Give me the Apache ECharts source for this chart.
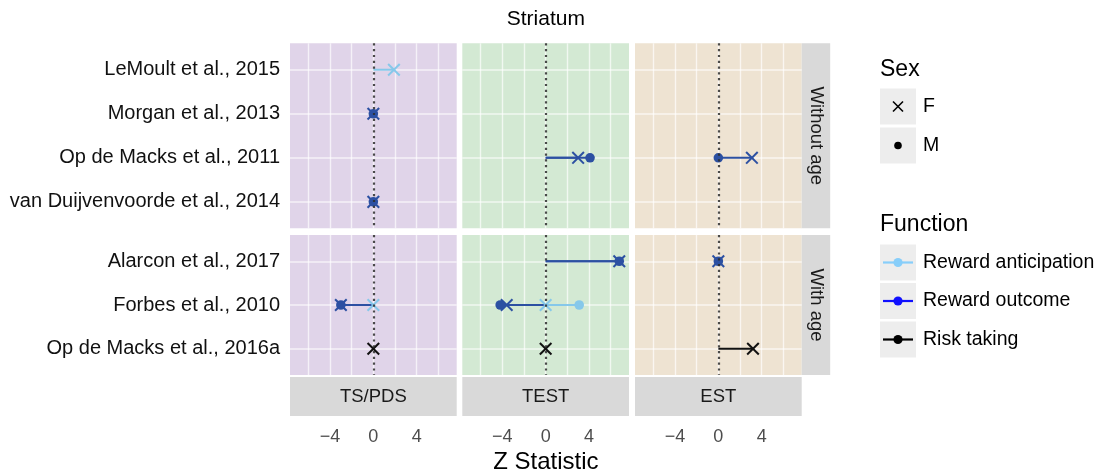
<!DOCTYPE html>
<html><head><meta charset="utf-8">
<script src="https://cdn.jsdelivr.net/npm/echarts@6/dist/echarts.min.js"></script>
<style>html,body{margin:0;padding:0;background:#fff}#c{width:1097px;height:474px}</style>
</head><body><div id="c"></div>
<script>
// ---------- data ----------
const chartTitle = 'Striatum';
const xAxisTitle = 'Z Statistic';
const panels = ['TS/PDS', 'TEST', 'EST'];
const rowLabels = ['Without age', 'With age'];
const studiesWithoutAge = ['LeMoult et al., 2015', 'Morgan et al., 2013', 'Op de Macks et al., 2011', 'van Duijvenvoorde et al., 2014'];
const studiesWithAge = ['Alarcon et al., 2017', 'Forbes et al., 2010', 'Op de Macks et al., 2016a'];
const xTicks = [-4, 0, 4];
const xGrid = [-6, -4, -2, 0, 2, 4, 6];
const functions = ['Reward anticipation', 'Reward outcome', 'Risk taking'];
const sexes = ['F', 'M'];
// [study, panel, z]
const rewardAnticipationF = [
  ['LeMoult et al., 2015', 'TS/PDS', 1.9],
  ['Forbes et al., 2010', 'TS/PDS', 0],
  ['Forbes et al., 2010', 'TEST', 0]
];
const rewardAnticipationM = [
  ['Forbes et al., 2010', 'TEST', 3.1]
];
const rewardOutcomeF = [
  ['Morgan et al., 2013', 'TS/PDS', 0],
  ['van Duijvenvoorde et al., 2014', 'TS/PDS', 0],
  ['Op de Macks et al., 2011', 'TEST', 3.0],
  ['Op de Macks et al., 2011', 'EST', 3.1],
  ['Alarcon et al., 2017', 'TEST', 6.8],
  ['Alarcon et al., 2017', 'EST', 0],
  ['Forbes et al., 2010', 'TS/PDS', -3.0],
  ['Forbes et al., 2010', 'TEST', -3.6]
];
const rewardOutcomeM = [
  ['Morgan et al., 2013', 'TS/PDS', 0],
  ['van Duijvenvoorde et al., 2014', 'TS/PDS', 0],
  ['Op de Macks et al., 2011', 'TEST', 4.1],
  ['Op de Macks et al., 2011', 'EST', 0],
  ['Alarcon et al., 2017', 'TEST', 6.8],
  ['Alarcon et al., 2017', 'EST', 0],
  ['Forbes et al., 2010', 'TS/PDS', -3.0],
  ['Forbes et al., 2010', 'TEST', -4.2]
];
const riskTakingF = [
  ['Op de Macks et al., 2016a', 'TS/PDS', 0],
  ['Op de Macks et al., 2016a', 'TEST', 0],
  ['Op de Macks et al., 2016a', 'EST', 3.2]
];

// ---------- styling ----------
const FONT = '"Liberation Sans", Arial, Helvetica, sans-serif';
const markColors = ['#86c8ea', '#2c50a2', '#111111'];
const legendColors = ['#87cefa', '#1010ff', '#000000'];
const panelBg = ['#e0d4e9', '#d3e9d3', '#eee3d2'];
const gridLineColor = 'rgba(255,255,255,0.68)';
const colLeft = [290, 462.3, 635];
const colW = 166.7;
const rowTop = [43.3, 235];
const rowH = [185, 140];
const rowStudies = [studiesWithoutAge, studiesWithAge];
const XMIN = -7.7, XMAX = 7.7;

const groups = [
  [rewardAnticipationF, 0, 0],
  [rewardAnticipationM, 0, 1],
  [rewardOutcomeF, 1, 0],
  [rewardOutcomeM, 1, 1],
  [riskTakingF, 2, 0]
];

const grids = [], xAxes = [], yAxes = [], series = [];
const fmtNum = v => v < 0 ? '\u2212' + Math.abs(v) : String(v);

for (let r = 0; r < 2; r++) {
  const studies = rowStudies[r];
  const n = studies.length;
  for (let c = 0; c < 3; c++) {
    const g = r * 3 + c;
    grids.push({
      left: colLeft[c], top: rowTop[r], width: colW, height: rowH[r],
      show: true, backgroundColor: panelBg[c], borderWidth: 0, containLabel: false
    });
    xAxes.push({
      type: 'value', gridIndex: g, min: XMIN, max: XMAX,
      axisLine: { show: false },
      axisTick: { show: false, customValues: xGrid },
      splitLine: { show: true, lineStyle: { color: gridLineColor, width: 1.4 } },
      axisLabel: {
        show: r === 1, customValues: xTicks, formatter: fmtNum,
        margin: 53, fontSize: 18, color: '#4d4d4d', fontFamily: FONT
      }
    });
    const idx = studies.map((s, i) => i);
    yAxes.push({
      type: 'value', gridIndex: g, min: -0.6, max: n - 1 + 0.6, inverse: true,
      axisLine: { show: false },
      axisTick: { show: false, customValues: idx },
      splitLine: { show: true, lineStyle: { color: gridLineColor, width: 1.6 } },
      axisLabel: {
        show: c === 0, customValues: idx, formatter: v => studies[Math.round(v)] || '',
        margin: 10, fontSize: 20, color: '#111111', fontFamily: FONT
      }
    });
    const segData = [], ptData = [];
    groups.forEach(([arr, fi, si]) => {
      arr.forEach(([study, panel, z]) => {
        const yi = studies.indexOf(study);
        if (yi < 0 || panel !== panels[c]) return;
        segData.push([z, yi, fi, si]);
        ptData.push([z, yi, fi, si]);
      });
    });
    // zero reference line
    series.push({
      type: 'scatter', xAxisIndex: g, yAxisIndex: g, data: [], z: 2, silent: true,
      markLine: {
        silent: true, symbol: 'none', label: { show: false },
        lineStyle: { type: [2.2, 3.6], width: 2.2, color: 'rgba(45,45,45,0.85)' },
        data: [{ xAxis: 0 }]
      }
    });
    series.push({
      type: 'custom', xAxisIndex: g, yAxisIndex: g, z: 3, silent: true,
      encode: { x: 0, y: 1 }, data: segData,
      renderItem: (params, api) => {
        const a = api.coord([0, api.value(1)]);
        const b = api.coord([api.value(0), api.value(1)]);
        return { type: 'line', shape: { x1: a[0], y1: a[1], x2: b[0], y2: b[1] },
          style: { stroke: markColors[api.value(2)], lineWidth: 2 } };
      }
    });
    series.push({
      type: 'custom', xAxisIndex: g, yAxisIndex: g, z: 4, silent: true,
      encode: { x: 0, y: 1 }, data: ptData,
      renderItem: (params, api) => {
        const p = api.coord([api.value(0), api.value(1)]);
        const col = markColors[api.value(2)];
        if (api.value(3) === 1) {
          return { type: 'circle', shape: { cx: p[0], cy: p[1], r: 4.8 }, style: { fill: col } };
        }
        const h = 5.8;
        return { type: 'group', children: [
          { type: 'line', shape: { x1: p[0] - h, y1: p[1] - h, x2: p[0] + h, y2: p[1] + h }, style: { stroke: col, lineWidth: 2 } },
          { type: 'line', shape: { x1: p[0] - h, y1: p[1] + h, x2: p[0] + h, y2: p[1] - h }, style: { stroke: col, lineWidth: 2 } }
        ] };
      }
    });
  }
}

// ---------- strips, titles, legend ----------
const graphics = [];
const stripFill = '#d9d9d9';
const stripRight = colLeft[2] + colW;
for (let r = 0; r < 2; r++) {
  graphics.push({ type: 'rect', shape: { x: stripRight, y: rowTop[r], width: 28.5, height: rowH[r] }, style: { fill: stripFill }, silent: true });
  graphics.push({ type: 'text', x: stripRight + 14.5, y: rowTop[r] + rowH[r] / 2, rotation: -Math.PI / 2,
    style: { text: rowLabels[r], fontSize: 18.5, fontFamily: FONT, fill: '#1a1a1a', align: 'center', verticalAlign: 'middle' }, silent: true });
}
for (let c = 0; c < 3; c++) {
  graphics.push({ type: 'rect', shape: { x: colLeft[c], y: 377, width: colW, height: 39 }, style: { fill: stripFill }, silent: true });
  graphics.push({ type: 'text', x: colLeft[c] + colW / 2, y: 397,
    style: { text: panels[c], fontSize: 18.5, fontFamily: FONT, fill: '#1a1a1a', align: 'center', verticalAlign: 'middle' }, silent: true });
}
const plotCenter = (colLeft[0] + stripRight) / 2;
graphics.push({ type: 'text', x: plotCenter, y: 19, style: { text: chartTitle, fontSize: 21, fontFamily: FONT, fill: '#000', align: 'center', verticalAlign: 'middle' }, silent: true });
graphics.push({ type: 'text', x: plotCenter, y: 462, style: { text: xAxisTitle, fontSize: 24, fontFamily: FONT, fill: '#000', align: 'center', verticalAlign: 'middle' }, silent: true });

// legend
const LX = 880, KW = 36, KH = 36;
graphics.push({ type: 'text', x: LX, y: 70, style: { text: 'Sex', fontSize: 23, fontFamily: FONT, fill: '#000', align: 'left', verticalAlign: 'middle' }, silent: true });
const sexKeyY = [88.5, 127.5];
sexes.forEach((s, i) => {
  const y0 = sexKeyY[i], cx = LX + KW / 2, cy = y0 + KH / 2;
  graphics.push({ type: 'rect', shape: { x: LX, y: y0, width: KW, height: KH }, style: { fill: '#ededed' }, silent: true });
  if (i === 0) {
    const h = 5;
    graphics.push({ type: 'line', shape: { x1: cx - h, y1: cy - h, x2: cx + h, y2: cy + h }, style: { stroke: '#000', lineWidth: 1.6 }, silent: true });
    graphics.push({ type: 'line', shape: { x1: cx - h, y1: cy + h, x2: cx + h, y2: cy - h }, style: { stroke: '#000', lineWidth: 1.6 }, silent: true });
  } else {
    graphics.push({ type: 'circle', shape: { cx: cx, cy: cy, r: 3.8 }, style: { fill: '#000' }, silent: true });
  }
  graphics.push({ type: 'text', x: LX + KW + 7, y: cy, style: { text: s, fontSize: 19.5, fontFamily: FONT, fill: '#000', align: 'left', verticalAlign: 'middle' }, silent: true });
});
graphics.push({ type: 'text', x: LX, y: 225, style: { text: 'Function', fontSize: 23, fontFamily: FONT, fill: '#000', align: 'left', verticalAlign: 'middle' }, silent: true });
const funcKeyY = [244.5, 283, 321.5];
functions.forEach((f, i) => {
  const y0 = funcKeyY[i], cx = LX + KW / 2, cy = y0 + KH / 2;
  graphics.push({ type: 'rect', shape: { x: LX, y: y0, width: KW, height: KH }, style: { fill: '#ededed' }, silent: true });
  graphics.push({ type: 'line', shape: { x1: LX + 3, y1: cy, x2: LX + KW - 3, y2: cy }, style: { stroke: legendColors[i], lineWidth: 2.2 }, silent: true });
  graphics.push({ type: 'circle', shape: { cx: cx, cy: cy, r: 4.6 }, style: { fill: legendColors[i] }, silent: true });
  graphics.push({ type: 'text', x: LX + KW + 7, y: cy, style: { text: f, fontSize: 19.5, fontFamily: FONT, fill: '#000', align: 'left', verticalAlign: 'middle' }, silent: true });
});

const chart = echarts.init(document.getElementById('c'), null, { renderer: 'canvas' });
chart.setOption({
  animation: false,
  backgroundColor: '#ffffff',
  textStyle: { fontFamily: FONT },
  grid: grids, xAxis: xAxes, yAxis: yAxes, series: series,
  graphic: { elements: graphics }
});
</script></body></html>
